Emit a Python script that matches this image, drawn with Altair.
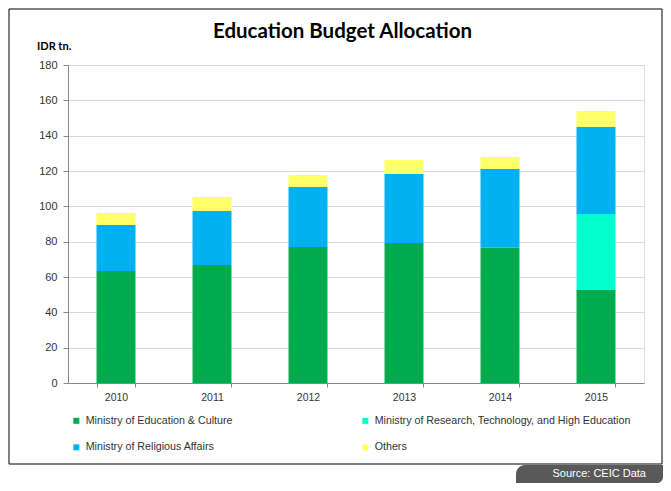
import altair as alt
import pandas as pd

years = ["2010", "2011", "2012", "2013", "2014", "2015"]
series = [
    "Ministry of Education & Culture",
    "Ministry of Research, Technology, and High Education",
    "Ministry of Religious Affairs",
    "Others",
]
edu = [63.4, 66.8, 77.0, 79.2, 76.6, 52.6]
research = [0, 0, 0, 0, 0, 43.0]
religious = [26.0, 30.5, 34.0, 39.1, 44.5, 49.3]
others = [6.8, 8.0, 6.7, 7.9, 6.8, 9.0]
colors = ["#00AB4E", "#00FFCC", "#00B0F0", "#FFFF66"]

rows = []
for vals, name, k in zip([edu, research, religious, others], series, range(4)):
    for y, v in zip(years, vals):
        rows.append({"Year": y, "Series": name, "Value": v, "k": k})
df = pd.DataFrame(rows)

W, H = 576, 318
FONT = "Liberation Sans"

bars = alt.Chart(df).mark_bar().encode(
    x=alt.X("Year:N", title=None, sort=years,
            scale=alt.Scale(paddingInner=0.594, paddingOuter=0.297),
            axis=alt.Axis(labelAngle=0, tickBand="extent", tickSize=4,
                          labelPadding=5, domainColor="#868686",
                          tickColor="#868686", labelFont=FONT,
                          labelFontSize=10.5, labelColor="#333333",
                          grid=False)),
    y=alt.Y("Value:Q", title=None, stack="zero",
            scale=alt.Scale(domain=[0, 180], nice=False),
            axis=alt.Axis(values=list(range(0, 181, 20)), tickSize=5,
                          labelPadding=6, domainColor="#868686",
                          tickColor="#868686", gridColor="#d9d9d9",
                          labelFont=FONT, labelFontSize=11,
                          labelColor="#333333")),
    color=alt.Color("Series:N",
                    scale=alt.Scale(domain=series, range=colors),
                    legend=alt.Legend(title=None, orient="none",
                                      direction="horizontal",
                                      legendX=3, legendY=350, columns=2,
                                      columnPadding=127, rowPadding=15,
                                      symbolType="square", symbolSize=36,
                                      symbolStrokeWidth=0, labelOffset=4,
                                      labelLimit=400, labelFont=FONT,
                                      labelFontSize=10.7,
                                      labelColor="#333333", padding=0,
                                      values=series)),
    order=alt.Order("k:Q", sort="ascending"),
)

one = pd.DataFrame({"t": ["Education Budget Allocation"]})

border = alt.Chart(one).mark_rect(fill="transparent", stroke="#000000",
                                  strokeWidth=1).encode(
    x=alt.value(-59), x2=alt.value(594), y=alt.value(-56), y2=alt.value(399))

title = alt.Chart(one).mark_text(font="Lato", fontWeight="bold", fontSize=20.5,
                                 color="#000000", align="center",
                                 baseline="middle").encode(
    x=alt.value(274.5), y=alt.value(-33), text="t:N")

unit = alt.Chart(pd.DataFrame({"t": ["IDR tn."]})).mark_text(
    font="Lato", fontWeight="bold", fontSize=11, color="#000000",
    align="left", baseline="middle").encode(
    x=alt.value(-31), y=alt.value(-18), text="t:N")

tab = alt.Chart(one).mark_rect(fill="#595959", cornerRadiusTopLeft=16,
                               cornerRadiusBottomRight=6).encode(
    x=alt.value(448), x2=alt.value(595), y=alt.value(400), y2=alt.value(418))

source = alt.Chart(pd.DataFrame({"t": ["Source: CEIC Data"]})).mark_text(
    font=FONT, fontSize=11, color="#ffffff", align="right",
    baseline="middle").encode(x=alt.value(578), y=alt.value(409), text="t:N")

chart = alt.layer(border, tab, bars, title, unit, source).properties(
    width=W, height=H,
    autosize=alt.AutoSizeParams(type="none"),
    padding={"left": 60, "top": 57, "right": 19, "bottom": 100},
).configure_view(stroke=None).configure(background="#ffffff")

chart.save("out.html", embed_options={"renderer": "svg", "actions": False})
